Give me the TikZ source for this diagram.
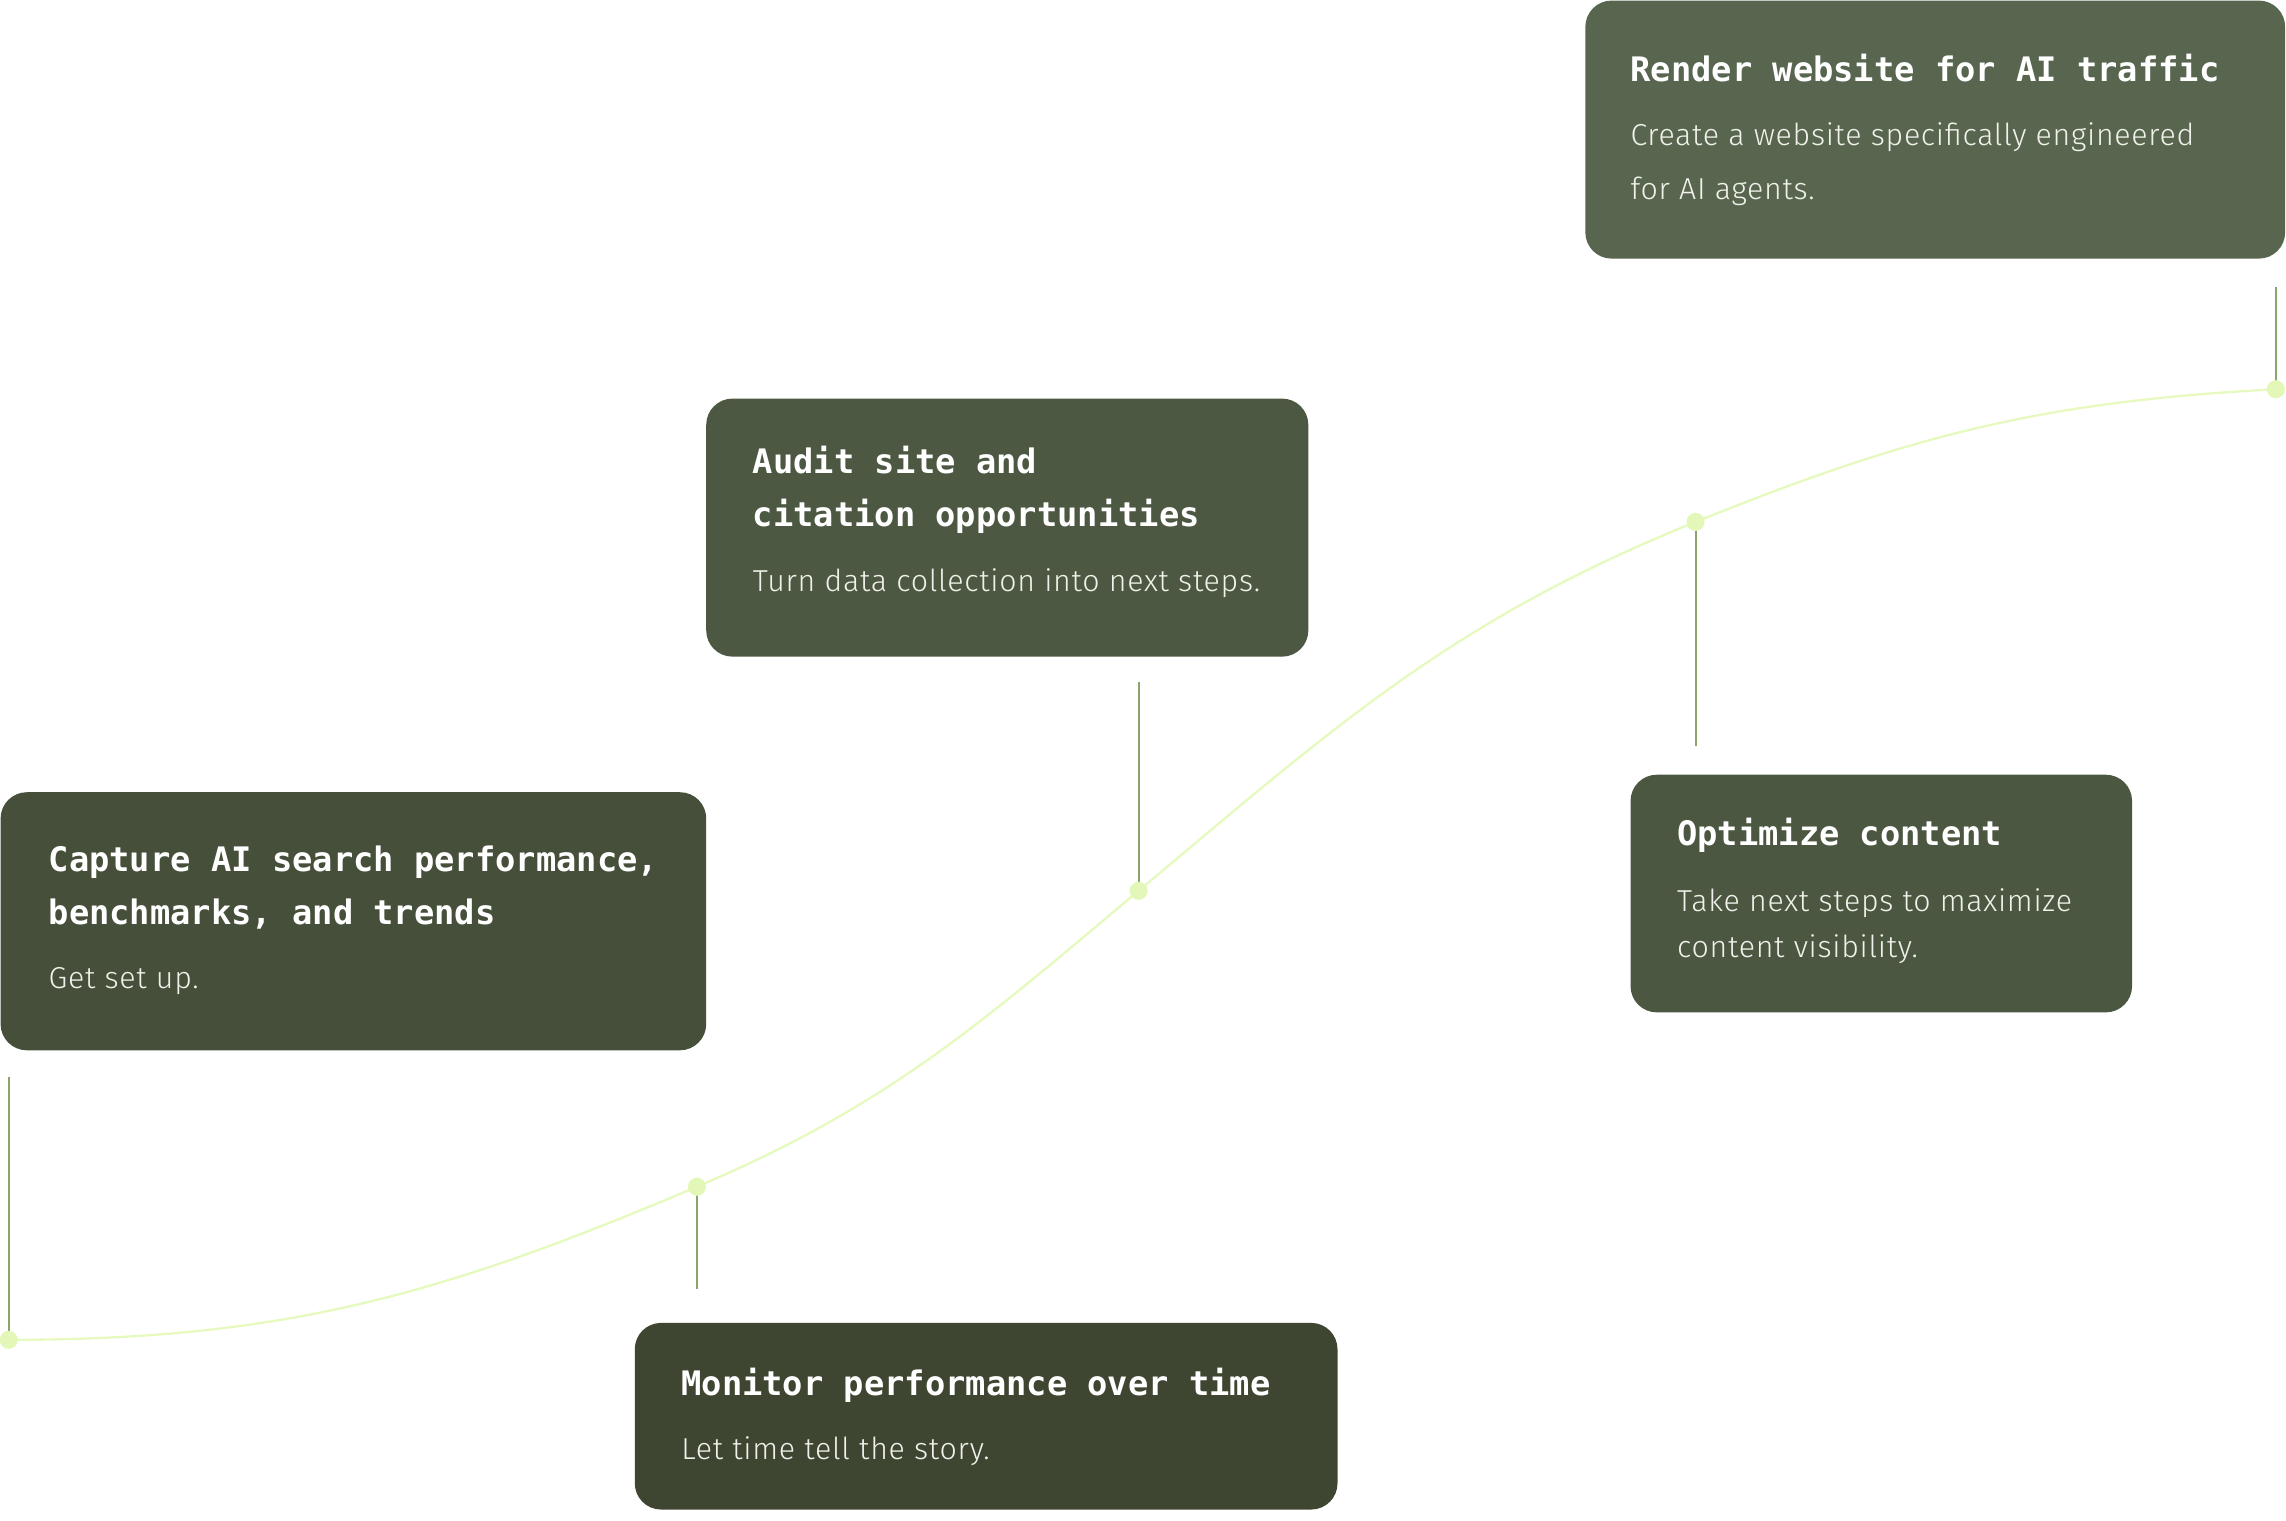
\documentclass[tikz,border=0pt]{standalone}
\usepackage{fontspec}
\setmonofont{DejaVu Sans Mono}
\newfontfamily\bodyfont{Fira Sans}[UprightFont={* Light}, LetterSpace=2.4]
\definecolor{boxA}{HTML}{586650}
\definecolor{boxB}{HTML}{4C5841}
\definecolor{boxC}{HTML}{454F39}
\definecolor{boxD}{HTML}{4B5741}
\definecolor{boxE}{HTML}{3E4632}
\definecolor{stemcol}{HTML}{8AA56B}
\definecolor{curvecol}{HTML}{E6FAC0}
\definecolor{dotcol}{HTML}{E3F8B8}
\definecolor{bodycol}{HTML}{F0F1EA}
\tikzset{
  card/.style={rectangle, rounded corners=9pt, draw=none, anchor=north west, inner sep=0pt},
  ttl/.style={anchor=base west, inner sep=0pt, text=white, font=\ttfamily\bfseries\fontsize{11.57}{13}\selectfont},
  bdy/.style={anchor=base west, inner sep=0pt, text=bodycol, font=\bodyfont\fontsize{10.4}{12}\selectfont},
  stem/.style={draw=stemcol, line width=0.65pt},
  curve/.style={draw=curvecol, line width=0.8pt},
  dot/.style={circle, fill=dotcol, draw=none, minimum size=6.2pt, inner sep=0pt}
}
\begin{document}
\begin{tikzpicture}[x=0.5pt,y=-0.5pt]
\useasboundingbox (0,0) rectangle (1568,1042.6);
% cards
\node (c1) [card, fill=boxA, minimum width=240pt, minimum height=88.5pt] at (1087,0) {};
\node (c2) [card, fill=boxB, minimum width=206.5pt, minimum height=88.5pt] at (484,273) {};
\node (c3) [card, fill=boxC, minimum width=242pt, minimum height=88.5pt] at (0,543) {};
\node (c4) [card, fill=boxD, minimum width=172pt, minimum height=81.5pt] at (1118,531) {};
\node (c5) [card, fill=boxE, minimum width=241pt, minimum height=64pt] at (435,907) {};
% texts
\node (t1a) [ttl] at (1118,56) {Render website for AI traffic};
\node (t1b) [bdy] at (1118,100) {Create a website specifically engineered};
\node (t1c) [bdy] at (1118,137) {for AI agents.};
\node (t2a) [ttl] at (516,325) {Audit site and};
\node (t2b) [ttl] at (516,361) {citation opportunities};
\node (t2c) [bdy] at (516,406) {Turn data collection into next steps.};
\node (t3a) [ttl] at (33,598) {Capture AI search performance,};
\node (t3b) [ttl] at (33,634) {benchmarks, and trends};
\node (t3c) [bdy] at (33,678) {Get set up.};
\node (t4a) [ttl] at (1150,580) {Optimize content};
\node (t4b) [bdy] at (1150,625) {Take next steps to maximize};
\node (t4c) [bdy] at (1150,657) {content visibility.};
\node (t5a) [ttl] at (467,957) {Monitor performance over time};
\node (t5b) [bdy] at (467,1001) {Let time tell the story.};
% dots (positions)
\coordinate (p1) at (1561,267);
\coordinate (p2) at (781,611);
\coordinate (p3) at (6,919);
\coordinate (p4) at (1163,358);
\coordinate (p5) at (478,814);
% stem ends
\coordinate (s1) at (1561,197);
\coordinate (s2) at (781,468);
\coordinate (s3) at (6,739);
\coordinate (s4) at (1163,512);
\coordinate (s5) at (478,884);
% curve
\draw[curve] (p3) to[out=0,in=203] (p5) to[out=23,in=220] (p2) to[out=40,in=202] (p4) to[out=22,in=183] (p1);
% stems
\draw[stem] (s1) -- (p1);
\draw[stem] (s2) -- (p2);
\draw[stem] (s3) -- (p3);
\draw[stem] (p4) -- (s4);
\draw[stem] (p5) -- (s5);
% dots
\node (d1) [dot] at (p1) {};
\node (d2) [dot] at (p2) {};
\node (d3) [dot] at (p3) {};
\node (d4) [dot] at (p4) {};
\node (d5) [dot] at (p5) {};
\end{tikzpicture}
\end{document}
